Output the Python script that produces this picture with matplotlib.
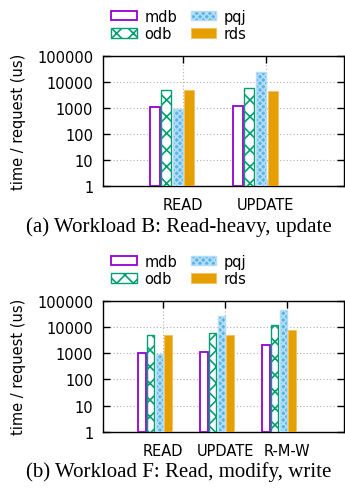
import numpy as np
import matplotlib
matplotlib.use('Agg')
import matplotlib.pyplot as plt
from matplotlib.ticker import LogLocator, NullFormatter

plt.rcParams['font.family'] = 'DejaVu Sans'
plt.rcParams['hatch.linewidth'] = 1.2

# data (us per request)
series = ['mdb', 'odb', 'pqj', 'rds']
ops_b = ['READ', 'UPDATE']
mdb_b = [1050, 1150]
odb_b = [5100, 6100]
pqj_b = [900, 25000]
rds_b = [4800, 4600]

ops_f = ['READ', 'UPDATE', 'R-M-W']
mdb_f = [1050, 1130, 2000]
odb_f = [5100, 6000, 11500]
pqj_f = [900, 26000, 43000]
rds_f = [4800, 4800, 8000]

captions = ['(a) Workload B: Read-heavy, update', '(b) Workload F: Read, modify, write']

styles = {
    'mdb': dict(facecolor='white', edgecolor='#9400D3', linewidth=1.3),
    'odb': dict(facecolor='white', edgecolor='#009E73', hatch='xx', linewidth=1.0),
    'pqj': dict(facecolor='#56B4E9', edgecolor='#b5def6', hatch='xxxxx', linewidth=1.0),
    'rds': dict(facecolor='#E69F00', edgecolor='#f0c060', linewidth=0.6),
}

fig = plt.figure(figsize=(3.45, 4.89), dpi=100)
W, H = 345.0, 489.0


def panel(top_px, bottom_px, xlim, ops, values, caption, y0):
    ax = fig.add_axes([103 / W, 1 - bottom_px / H, 241 / W, (bottom_px - top_px) / H])
    x = np.arange(len(ops))
    bars = []
    for i, name in enumerate(series):
        b = ax.bar(x - 0.34 + 0.14 * i, values[i], width=0.12, bottom=1,
                   label=name, zorder=3, **styles[name])
        bars.append(b)
    ax.set_yscale('log')
    ax.set_ylim(1, 100000)
    ax.set_xlim(*xlim)
    ax.set_yticks([1, 10, 100, 1000, 10000, 100000])
    ax.set_yticklabels(['1', '10', '100', '1000', '10000', '100000'])
    ax.yaxis.set_minor_locator(LogLocator(base=10, subs=np.arange(2, 10)))
    ax.yaxis.set_minor_formatter(NullFormatter())
    ax.set_xticks(x)
    ax.set_xticklabels(ops)
    ax.tick_params(axis='both', which='both', direction='in', top=True, right=True,
                   labelsize=10.5)
    ax.tick_params(axis='y', which='major', length=5, width=1, pad=7)
    ax.tick_params(axis='y', which='minor', length=3, width=0.7)
    ax.tick_params(axis='x', which='major', length=5, width=1, pad=8)
    ax.grid(True, which='major', linestyle=(0, (1, 2)), color='#b0b0b0', linewidth=0.8, zorder=0)
    for s in ax.spines.values():
        s.set_linewidth(1.0)
    ax.set_ylabel('time / request (us)', fontsize=10.5, labelpad=8)
    fig.legend(handles=bars, loc='center', bbox_to_anchor=(179 / W, 1 - (y0 + 26) / H),
               ncol=2, frameon=False, fontsize=10.5, handlelength=1.75, handleheight=0.6,
               handletextpad=0.55, columnspacing=0.9, labelspacing=0.15, borderpad=0)
    fig.text(179 / W, 1 - (y0 + 227) / H, caption, ha='center', va='center',
             fontsize=15, family='Liberation Serif')
    return ax


panel(57, 187, (-0.96, 1.94), ops_b, [mdb_b, odb_b, pqj_b, rds_b], captions[0], 0)
panel(301.7, 433, (-0.97, 2.92), ops_f, [mdb_f, odb_f, pqj_f, rds_f], captions[1], 245)

fig.savefig('out.png', dpi=100)
